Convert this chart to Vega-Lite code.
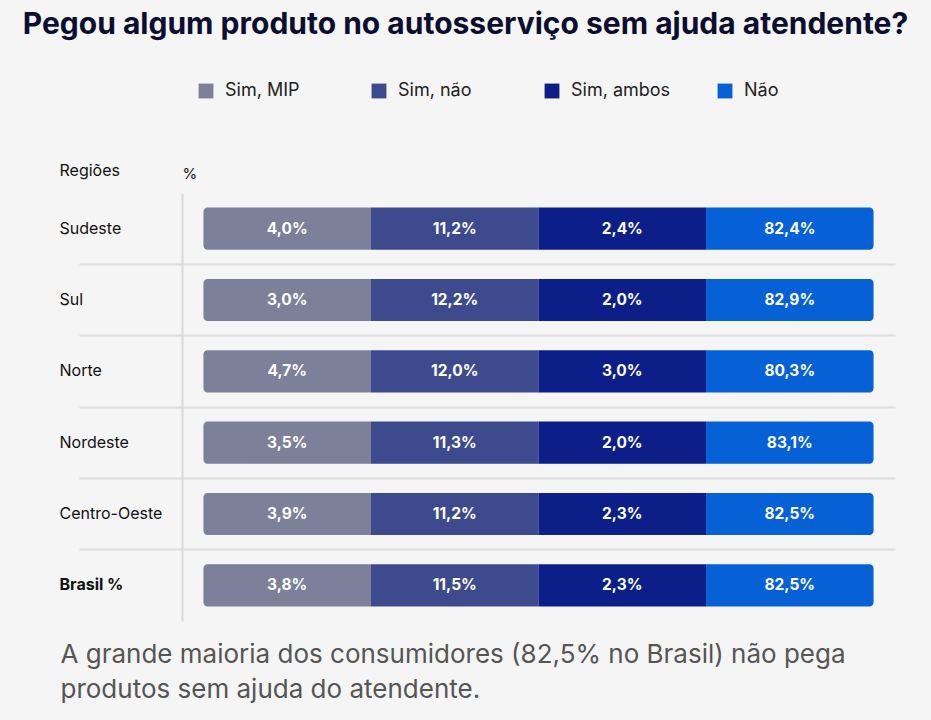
{
  "$schema": "https://vega.github.io/schema/vega-lite/v6.json",
  "width": 713,
  "height": 428,
  "autosize": {"type": "none"},
  "padding": {"left": 182, "top": 193, "right": 36, "bottom": 99},
  "background": "#f5f5f5",
  "title": {
    "text": "Pegou algum produto no autosserviço sem ajuda atendente?",
    "font": "Inter",
    "fontSize": 30,
    "fontWeight": 700,
    "color": "#0b0e30",
    "anchor": "middle",
    "dx": -73,
    "dy": -38
  },
  "config": {
    "view": {"stroke": null},
    "locale": {"number": {"decimal": ",", "thousands": ".", "grouping": [3], "currency": ["R$", ""]}}
  },
  "data": {
    "values": [
      {"region": "Sudeste", "answer": "Sim, MIP", "share": 0.040},
      {"region": "Sudeste", "answer": "Sim, não", "share": 0.112},
      {"region": "Sudeste", "answer": "Sim, ambos", "share": 0.024},
      {"region": "Sudeste", "answer": "Não", "share": 0.824},
      {"region": "Sul", "answer": "Sim, MIP", "share": 0.030},
      {"region": "Sul", "answer": "Sim, não", "share": 0.122},
      {"region": "Sul", "answer": "Sim, ambos", "share": 0.020},
      {"region": "Sul", "answer": "Não", "share": 0.829},
      {"region": "Norte", "answer": "Sim, MIP", "share": 0.047},
      {"region": "Norte", "answer": "Sim, não", "share": 0.120},
      {"region": "Norte", "answer": "Sim, ambos", "share": 0.030},
      {"region": "Norte", "answer": "Não", "share": 0.803},
      {"region": "Nordeste", "answer": "Sim, MIP", "share": 0.035},
      {"region": "Nordeste", "answer": "Sim, não", "share": 0.113},
      {"region": "Nordeste", "answer": "Sim, ambos", "share": 0.020},
      {"region": "Nordeste", "answer": "Não", "share": 0.831},
      {"region": "Centro-Oeste", "answer": "Sim, MIP", "share": 0.039},
      {"region": "Centro-Oeste", "answer": "Sim, não", "share": 0.112},
      {"region": "Centro-Oeste", "answer": "Sim, ambos", "share": 0.023},
      {"region": "Centro-Oeste", "answer": "Não", "share": 0.825},
      {"region": "Brasil %", "answer": "Sim, MIP", "share": 0.038},
      {"region": "Brasil %", "answer": "Sim, não", "share": 0.115},
      {"region": "Brasil %", "answer": "Sim, ambos", "share": 0.023},
      {"region": "Brasil %", "answer": "Não", "share": 0.825}
    ]
  },
  "encoding": {
    "y": {
      "field": "region",
      "type": "nominal",
      "sort": ["Sudeste", "Sul", "Norte", "Nordeste", "Centro-Oeste", "Brasil %"],
      "scale": {"paddingInner": 0, "paddingOuter": 0},
      "axis": {
        "title": "Regiões",
        "titleAngle": 0,
        "titleAlign": "left",
        "titleBaseline": "middle",
        "titleX": -123,
        "titleY": -23,
        "titleFont": "Inter",
        "titleFontSize": 16,
        "titleFontWeight": "normal",
        "titleColor": "#111111",
        "domain": true,
        "domainColor": "#d9d9d9",
        "domainWidth": 2,
        "ticks": true,
        "tickSize": 103,
        "tickWidth": 2,
        "tickColor": {"condition": {"test": "datum.value === 'Sudeste'", "value": "rgba(0,0,0,0)"}, "value": "#dddddd"},
        "grid": true,
        "gridWidth": 2,
        "gridColor": {"condition": {"test": "datum.value === 'Sudeste'", "value": "rgba(0,0,0,0)"}, "value": "#dddddd"},
        "bandPosition": 0,
        "labelAlign": "left",
        "labelPadding": 20,
        "labelFont": "Inter",
        "labelFontSize": 16,
        "labelColor": "#111111",
        "labelFontWeight": {"condition": {"test": "datum.value === 'Brasil %'", "value": "bold"}, "value": "normal"}
      }
    },
    "x": {
      "field": "answer",
      "type": "nominal",
      "sort": ["Sim, MIP", "Sim, não", "Sim, ambos", "Não"],
      "scale": {"paddingInner": 0, "paddingOuter": 0.128},
      "axis": null
    },
    "color": {
      "field": "answer",
      "type": "nominal",
      "scale": {
        "domain": ["Sim, MIP", "Sim, não", "Sim, ambos", "Não"],
        "range": ["#7c8099", "#3d4a8d", "#0c1e88", "#0661d7"]
      },
      "legend": {
        "orient": "none",
        "legendX": 15,
        "legendY": -111,
        "direction": "horizontal",
        "columns": 4,
        "gridAlign": "all",
        "columnPadding": 45,
        "title": null,
        "symbolType": "square",
        "symbolSize": 220,
        "symbolStrokeWidth": 0,
        "symbolOpacity": 1,
        "labelFont": "Inter",
        "labelFontSize": 18,
        "labelColor": "#222222",
        "labelOffset": 10,
        "labelLimit": 300
      }
    }
  },
  "layer": [
    {
      "transform": [{"filter": "datum.answer === 'Sim, MIP'"}],
      "mark": {"type": "bar", "height": {"band": 0.59}, "cornerRadiusTopLeft": 4, "cornerRadiusBottomLeft": 4},
      "encoding": {
        "x": {
          "field": "answer",
          "type": "nominal",
          "sort": ["Sim, MIP", "Sim, não", "Sim, ambos", "Não"],
          "scale": {"paddingInner": 0, "paddingOuter": 0.128},
          "axis": {
            "orient": "top",
            "domain": false,
            "ticks": false,
            "labels": false,
            "grid": false,
            "title": "%",
            "titleX": 0,
            "titleY": -20,
            "titleAlign": "left",
            "titleBaseline": "middle",
            "titleFont": "Inter",
            "titleFontSize": 15,
            "titleFontWeight": "normal",
            "titleColor": "#111111"
          }
        }
      }
    },
    {
      "transform": [{"filter": "datum.answer === 'Sim, não' || datum.answer === 'Sim, ambos'"}],
      "mark": {"type": "bar", "height": {"band": 0.59}}
    },
    {
      "transform": [{"filter": "datum.answer === 'Não'"}],
      "mark": {"type": "bar", "height": {"band": 0.59}, "cornerRadiusTopRight": 4, "cornerRadiusBottomRight": 4}
    },
    {
      "mark": {"type": "text", "font": "Inter", "fontSize": 15.5, "fontWeight": "bold", "baseline": "middle", "align": "center"},
      "encoding": {
        "text": {"field": "share", "type": "quantitative", "format": ".1%"},
        "color": {"value": "#ffffff"},
        "x": {
          "field": "answer",
          "type": "nominal",
          "sort": ["Sim, MIP", "Sim, não", "Sim, ambos", "Não"],
          "scale": {"paddingInner": 0, "paddingOuter": 0.128},
          "axis": {
            "orient": "bottom",
            "domain": false,
            "ticks": false,
            "labels": false,
            "grid": false,
            "title": ["A grande maioria dos consumidores (82,5% no Brasil) não pega", "produtos sem ajuda do atendente."],
            "titleX": -122,
            "titleY": 41,
            "titleAlign": "left",
            "titleBaseline": "alphabetic",
            "titleFont": "Inter",
            "titleFontSize": 26,
            "titleFontWeight": "normal",
            "titleColor": "#555555",
            "titleLineHeight": 35
          }
        }
      }
    }
  ],
  "resolve": {"axis": {"x": "independent"}}
}
